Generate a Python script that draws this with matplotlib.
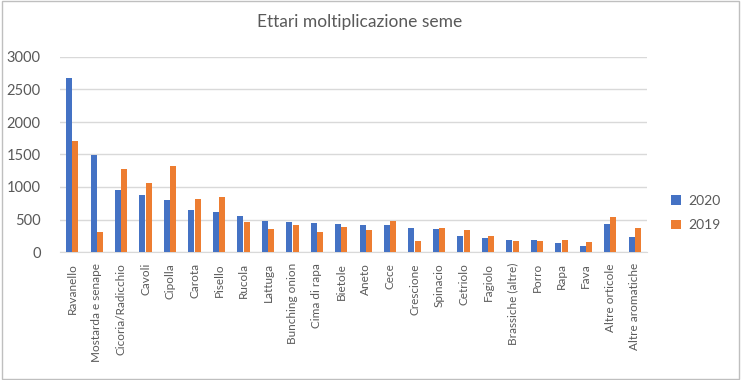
import numpy as np
import matplotlib.pyplot as plt
from matplotlib.patches import Rectangle

plt.rcParams['font.family'] = ['Lato', 'DejaVu Sans']

categories = ['Ravanello', 'Mostarda e senape', 'Cicoria/Radicchio', 'Cavoli', 'Cipolla',
              'Carota', 'Pisello', 'Rucola', 'Lattuga', 'Bunching onion', 'Cima di rapa',
              'Bietole', 'Aneto', 'Cece', 'Crescione', 'Spinacio', 'Cetriolo', 'Fagiolo',
              'Brassiche (altre)', 'Porro', 'Rapa', 'Fava', 'Altre orticole', 'Altre aromatiche']
ha_2020 = [2670, 1490, 960, 873, 800, 642, 622, 555, 473, 462, 442, 431, 416, 416,
           370, 349, 247, 221, 185, 185, 144, 98, 431, 231]
ha_2019 = [1705, 313, 1284, 1063, 1320, 812, 848, 467, 349, 416, 313, 380, 334, 473,
           164, 370, 334, 247, 164, 164, 185, 154, 539, 365]

BLUE = '#4472C4'
ORANGE = '#ED7D31'
TXT = '#595959'

fig = plt.figure(figsize=(7.41, 3.80), dpi=100)
ax = fig.add_axes([60/741, 128/380, 587/741, 195/380])

x = np.arange(len(categories))
w = 0.245
ax.bar(x - 0.13, ha_2020, w, color=BLUE, label='2020', zorder=3)
ax.bar(x + 0.13, ha_2019, w, color=ORANGE, label='2019', zorder=3)

ax.set_xlim(-0.5, len(categories) - 0.5)
ax.set_ylim(0, 3000)
ax.set_yticks(range(0, 3001, 500))
ax.grid(axis='y', color='#D9D9D9', linewidth=1, zorder=0)
ax.set_xticks(x)
ax.set_xticklabels(categories, rotation=90, fontsize=8.5, color=TXT)
ax.tick_params(axis='y', labelsize=10.5, labelcolor=TXT, length=0, pad=14)
ax.tick_params(axis='x', length=0, pad=8)
for s in ['top', 'right', 'left']:
    ax.spines[s].set_visible(False)
ax.spines['bottom'].set_color('#D9D9D9')

fig.text(360/741, 1 - 22/380, 'Ettari moltiplicazione seme', ha='center', va='center',
         fontsize=12.5, color=TXT)

ax.legend(loc='center left', bbox_to_anchor=(1.02, 0.2), frameon=False, fontsize=10,
          labelcolor=TXT, handlelength=0.7, handleheight=0.7, handletextpad=0.5,
          labelspacing=0.9)

fig.patches.append(Rectangle((0.003, 0.003), 0.994, 0.994, transform=fig.transFigure,
                             fill=False, edgecolor='#BFBFBF', linewidth=1))

fig.savefig('out.png', dpi=100)
